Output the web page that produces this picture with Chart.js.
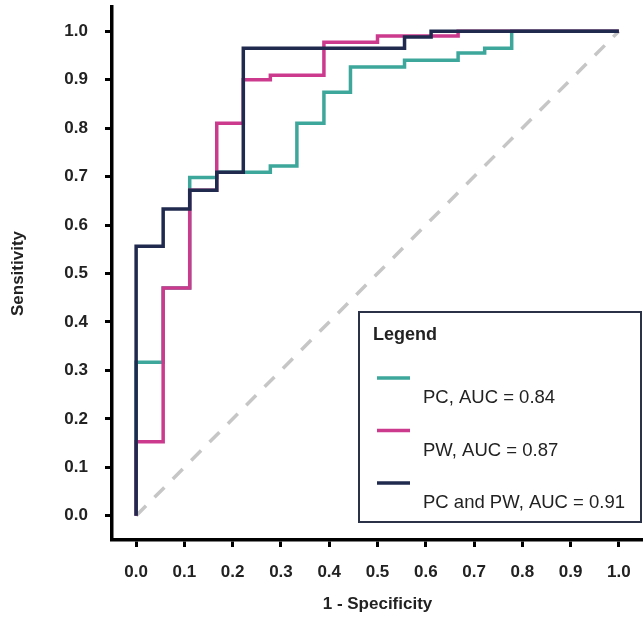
<!DOCTYPE html>
<html lang="en">
<head>
  <meta charset="UTF-8">
  <title>ROC | PC e PW</title>
  <script src="https://cdn.jsdelivr.net/npm/chart.js"></script>
  <style>
    html, body { margin: 0; padding: 0; background: #fff; }
  </style>
</head>
<body>
  <canvas id="rocChart" width="643" height="625"></canvas>

<script>
  // pontos da curva ROC (1 - especificidade, sensibilidade)
  const pcFpr = [0, 0, 0.056, 0.111, 0.167, 0.278, 0.333, 0.389, 0.444, 0.556, 0.667, 0.722, 0.778, 1.0];
  const pcTpr = [0, 0.317, 0.47, 0.698, 0.709, 0.722, 0.81, 0.874, 0.926, 0.94, 0.955, 0.965, 1.0, 1.0];

  const pwFpr = [0, 0, 0.056, 0.111, 0.167, 0.222, 0.278, 0.389, 0.5, 0.667, 1.0];
  const pwTpr = [0, 0.153, 0.47, 0.672, 0.81, 0.90, 0.909, 0.977, 0.99, 1.0, 1.0];

  const bothFpr = [0, 0, 0.056, 0.111, 0.167, 0.222, 0.556, 0.611, 1.0];
  const bothTpr = [0, 0.556, 0.633, 0.672, 0.709, 0.965, 0.988, 1.0, 1.0];

  const refLine = [0, 1];

  const legendLabels = ['PC, AUC = 0.84', 'PW, AUC = 0.87', 'PC and PW, AUC = 0.91'];

  const xTicks = [0, 0.1, 0.2, 0.3, 0.4, 0.5, 0.6, 0.7, 0.8, 0.9, 1.0];
  const xTickLabels = ['0.0', '0.1', '0.2', '0.3', '0.4', '0.5', '0.6', '0.7', '0.8', '0.9', '1.0'];
  const yTicks = [0, 0.1, 0.2, 0.3, 0.4, 0.5, 0.6, 0.7, 0.8, 0.9, 1.0];
  const yTickLabels = ['0.0', '0.1', '0.2', '0.3', '0.4', '0.5', '0.6', '0.7', '0.8', '0.9', '1.0'];

  const FONT = '"Liberation Sans", Arial, sans-serif';

  function toPoints(xs, ys) {
    return xs.map(function (x, i) { return { x: x, y: ys[i] }; });
  }

  // caixa de legenda desenhada a mao, como na figura original
  const legendBox = {
    id: 'legendBox',
    afterDraw(chart) {
      const ctx = chart.ctx;
      const sets = chart.data.datasets.filter(function (d) { return d.label; });
      ctx.save();
      ctx.fillStyle = '#fff';
      ctx.fillRect(359, 312, 282, 210);
      ctx.strokeStyle = '#2b3247';
      ctx.lineWidth = 2;
      ctx.strokeRect(359, 312, 282, 210);

      ctx.fillStyle = '#222';
      ctx.textBaseline = 'middle';
      ctx.font = 'bold 18px ' + FONT;
      ctx.fillText('Legend', 373, 335);

      ctx.font = '18.5px ' + FONT;
      sets.forEach(function (d, i) {
        const y = 378 + i * 52.5;
        ctx.strokeStyle = d.borderColor;
        ctx.lineWidth = 3.5;
        ctx.beginPath();
        ctx.moveTo(377, y);
        ctx.lineTo(410, y);
        ctx.stroke();
        ctx.fillText(d.label, 423, y + 20);
      });
      ctx.restore();
    }
  };

  const config = {
    type: 'scatter',
    data: {
      datasets: [
        {
          label: legendLabels[0],
          data: toPoints(pcFpr, pcTpr),
          showLine: true,
          stepped: 'before',
          borderColor: '#3ea79c',
          borderWidth: 3.5,
          pointRadius: 0,
          order: 3
        },
        {
          label: legendLabels[1],
          data: toPoints(pwFpr, pwTpr),
          showLine: true,
          stepped: 'before',
          borderColor: '#cc3a8e',
          borderWidth: 3.5,
          pointRadius: 0,
          order: 2
        },
        {
          label: legendLabels[2],
          data: toPoints(bothFpr, bothTpr),
          showLine: true,
          stepped: 'before',
          borderColor: '#1f2a4e',
          borderWidth: 3.5,
          pointRadius: 0,
          order: 1
        },
        {
          label: '',
          data: toPoints(refLine, refLine),
          showLine: true,
          borderColor: '#c6c6c6',
          borderWidth: 3.5,
          borderDash: [14, 12],
          pointRadius: 0,
          order: 4
        }
      ]
    },
    options: {
      responsive: false,
      animation: false,
      layout: { padding: { top: 7, right: 0, bottom: 0, left: 0 } },
      plugins: {
        legend: { display: false },
        tooltip: { enabled: false }
      },
      scales: {
        x: {
          type: 'linear',
          min: -0.05,
          max: 1.05,
          afterBuildTicks: function (scale) {
            scale.ticks = xTicks.map(function (v) { return { value: v }; });
          },
          afterFit: function (scale) {
            scale.height = 85;
            scale.paddingLeft = 0;
            scale.paddingRight = 0;
          },
          ticks: {
            color: '#222',
            padding: 15,
            font: { family: FONT, size: 17, weight: 'bold' },
            callback: function (value, index) { return xTickLabels[index]; }
          },
          grid: {
            drawOnChartArea: false,
            drawTicks: true,
            tickLength: 7,
            tickWidth: 3,
            tickColor: '#000'
          },
          border: { display: true, color: '#000', width: 3.5 },
          title: {
            display: true,
            text: '1 - Specificity',
            color: '#222',
            font: { family: FONT, size: 17, weight: 'bold' },
            padding: { top: 0, bottom: 10 }
          }
        },
        y: {
          type: 'linear',
          min: -0.05,
          max: 1.05,
          afterBuildTicks: function (scale) {
            scale.ticks = yTicks.map(function (v) { return { value: v }; });
          },
          afterFit: function (scale) {
            scale.width = 112;
            scale.paddingTop = 0;
            scale.paddingBottom = 0;
          },
          ticks: {
            color: '#222',
            padding: 17,
            font: { family: FONT, size: 17, weight: 'bold' },
            callback: function (value, index) { return yTickLabels[index]; }
          },
          grid: {
            drawOnChartArea: false,
            drawTicks: true,
            tickLength: 7,
            tickWidth: 3,
            tickColor: '#000'
          },
          border: { display: true, color: '#000', width: 3.5 },
          title: {
            display: true,
            text: 'Sensitivity',
            color: '#222',
            font: { family: FONT, size: 17, weight: 'bold' },
            padding: { top: 8, bottom: 0 }
          }
        }
      }
    },
    plugins: [legendBox]
  };

  new Chart(document.getElementById('rocChart'), config);
</script>
</body>
</html>
